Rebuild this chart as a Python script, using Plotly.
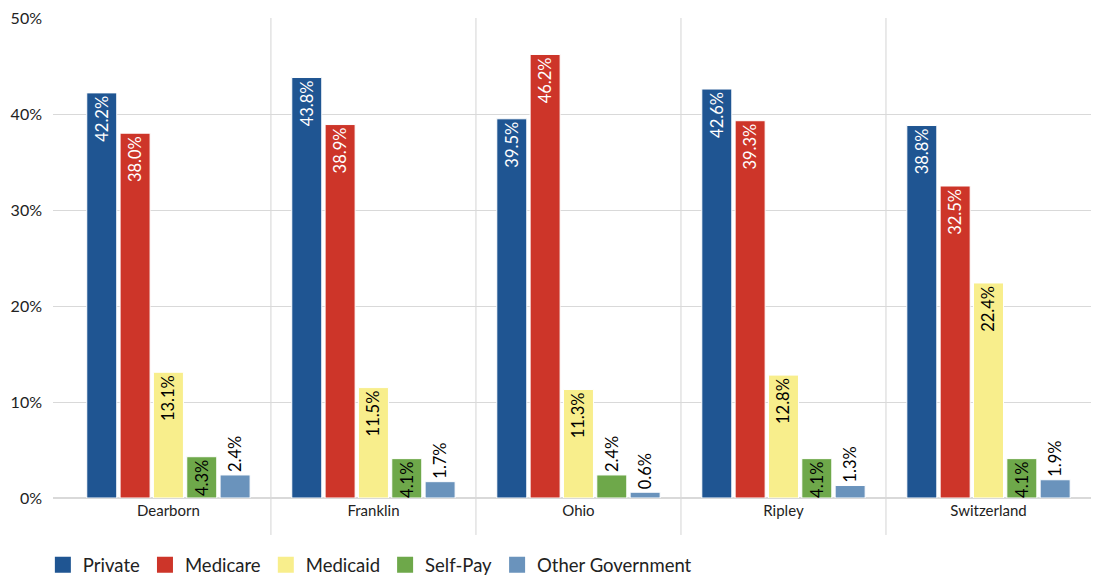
import plotly.graph_objects as go

counties = ["Dearborn", "Franklin", "Ohio", "Ripley", "Switzerland"]
private = [42.2, 43.8, 39.5, 42.6, 38.8]
medicare = [38.0, 38.9, 46.2, 39.3, 32.5]
medicaid = [13.1, 11.5, 11.3, 12.8, 22.4]
self_pay = [4.3, 4.1, 2.4, 4.1, 4.1]
other_gov = [2.4, 1.7, 0.6, 1.3, 1.9]
y_ticks = [0, 10, 20, 30, 40, 50]

series = [
    ("Private", private, "#1F5592", "white"),
    ("Medicare", medicare, "#CD3529", "white"),
    ("Medicaid", medicaid, "#F8EE8C", "black"),
    ("Self-Pay", self_pay, "#6EA84A", "black"),
    ("Other Government", other_gov, "#6A93BC", "black"),
]

FONT = "Lato, 'Open Sans', sans-serif"

fig = go.Figure()
for name, vals, color, tcol in series:
    pos = ["inside" if v >= 4 else "outside" for v in vals]
    cols = [tcol if p == "inside" else "black" for p in pos]
    fig.add_trace(go.Bar(
        name=name, x=counties, y=vals,
        marker=dict(color=color, line=dict(color="white", width=1)),
        text=[f"{v:.1f}%" for v in vals],
        textposition=pos,
        insidetextanchor="end",
        textangle=-90,
        textfont=dict(color=cols, size=16.5, family=FONT),
        cliponaxis=False,
        showlegend=False,
        legendgroup=name,
    ))
# legend entries with larger square swatches
for name, vals, color, tcol in series:
    fig.add_trace(go.Scatter(
        name=name, x=[None], y=[None], mode="markers",
        marker=dict(symbol="square", size=20, color=color),
        showlegend=True, legendgroup=name, hoverinfo="skip",
    ))

shapes = []
for i in range(len(counties) - 1):
    shapes.append(dict(type="line", xref="x", yref="paper",
                       x0=i + 0.5, x1=i + 0.5, y0=-0.077, y1=1,
                       line=dict(color="#d4d4d4", width=1), layer="below"))

fig.update_layout(
    width=1099, height=575,
    margin=dict(l=53, r=8, t=15, b=77),
    paper_bgcolor="white", plot_bgcolor="white",
    barmode="group", bargap=0.187, bargroupgap=0.1,
    font=dict(family=FONT, size=16, color="#222"),
    uniformtext=dict(minsize=16.5, mode="show"),
    shapes=shapes,
    xaxis=dict(range=[-0.563, 4.5], showgrid=False, showline=False,
               ticks="", tickfont=dict(size=15), ticklabelstandoff=2),
    yaxis=dict(range=[0, 50], tickvals=y_ticks,
               ticktext=[f"{v}%" for v in y_ticks],
               showgrid=True, gridcolor="#d9d9d9", gridwidth=1,
               zeroline=True, zerolinecolor="#d9d9d9", showline=False,
               ticks="", ticklabelstandoff=10, tickfont=dict(size=16)),
    legend=dict(orientation="h", x=0.039, xanchor="left", y=0.017, yanchor="middle",
                xref="container", yref="container",
                font=dict(size=18.5), itemclick=False, traceorder="normal",
                itemsizing="trace", itemwidth=30),
    showlegend=True,
)

fig.write_html("out.html")
